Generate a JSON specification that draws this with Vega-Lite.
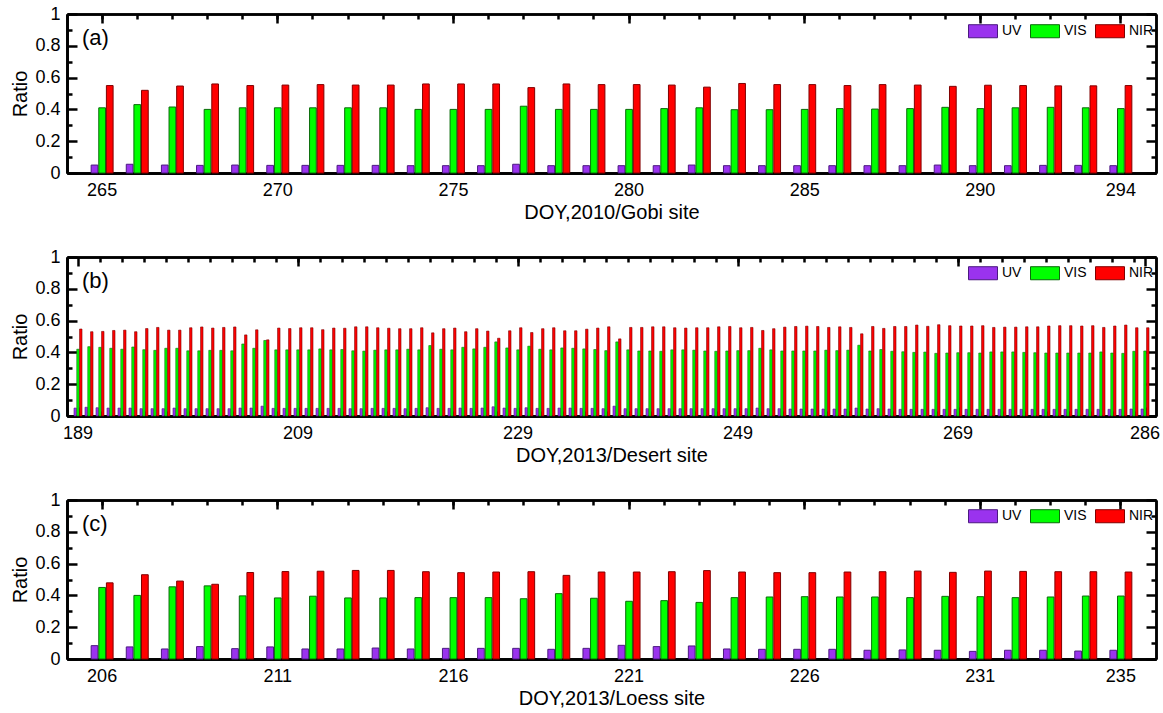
{
  "$schema": "https://vega.github.io/schema/vega-lite/v6.json",
  "padding": {"left": 10, "top": 5, "right": 5, "bottom": 2},
  "spacing": 26,
  "config": {
    "font": "Liberation Sans",
    "view": {"stroke": null},
    "axis": {"grid": false, "labelColor": "black", "titleColor": "black", "labelFontSize": 18, "titleFontSize": 20, "titleFontWeight": "normal", "labelAngle": 0},
    "legend": {"labelFontSize": 14, "labelColor": "black"},
    "title": {"font": "Liberation Sans", "color": "black"}
  },
  "datasets": {
    "a": [
      {"doy":265,"UV":0.05,"VIS":0.41,"NIR":0.55},{"doy":266,"UV":0.055,"VIS":0.43,"NIR":0.52},{"doy":267,"UV":0.05,"VIS":0.415,"NIR":0.547},{"doy":268,"UV":0.048,"VIS":0.40,"NIR":0.56},{"doy":269,"UV":0.05,"VIS":0.41,"NIR":0.55},
      {"doy":270,"UV":0.048,"VIS":0.41,"NIR":0.553},{"doy":271,"UV":0.048,"VIS":0.41,"NIR":0.556},{"doy":272,"UV":0.048,"VIS":0.41,"NIR":0.553},{"doy":273,"UV":0.048,"VIS":0.41,"NIR":0.553},{"doy":274,"UV":0.046,"VIS":0.40,"NIR":0.56},
      {"doy":275,"UV":0.046,"VIS":0.40,"NIR":0.56},{"doy":276,"UV":0.046,"VIS":0.40,"NIR":0.56},{"doy":277,"UV":0.055,"VIS":0.42,"NIR":0.537},{"doy":278,"UV":0.046,"VIS":0.40,"NIR":0.56},{"doy":279,"UV":0.046,"VIS":0.40,"NIR":0.556},
      {"doy":280,"UV":0.046,"VIS":0.40,"NIR":0.556},{"doy":281,"UV":0.046,"VIS":0.405,"NIR":0.553},{"doy":282,"UV":0.05,"VIS":0.41,"NIR":0.54},{"doy":283,"UV":0.046,"VIS":0.398,"NIR":0.563},{"doy":284,"UV":0.046,"VIS":0.398,"NIR":0.556},
      {"doy":285,"UV":0.046,"VIS":0.40,"NIR":0.556},{"doy":286,"UV":0.046,"VIS":0.405,"NIR":0.55},{"doy":287,"UV":0.046,"VIS":0.402,"NIR":0.556},{"doy":288,"UV":0.046,"VIS":0.405,"NIR":0.553},{"doy":289,"UV":0.05,"VIS":0.413,"NIR":0.545},
      {"doy":290,"UV":0.046,"VIS":0.405,"NIR":0.552},{"doy":291,"UV":0.046,"VIS":0.41,"NIR":0.55},{"doy":292,"UV":0.048,"VIS":0.413,"NIR":0.548},{"doy":293,"UV":0.048,"VIS":0.41,"NIR":0.548},{"doy":294,"UV":0.046,"VIS":0.405,"NIR":0.55}
    ],
    "b": [
      {"doy":189,"UV":0.05,"VIS":0.42,"NIR":0.547},{"doy":190,"UV":0.055,"VIS":0.436,"NIR":0.53},{"doy":191,"UV":0.052,"VIS":0.432,"NIR":0.532},{"doy":192,"UV":0.05,"VIS":0.426,"NIR":0.538},{"doy":193,"UV":0.05,"VIS":0.42,"NIR":0.54},
      {"doy":194,"UV":0.05,"VIS":0.434,"NIR":0.53},{"doy":195,"UV":0.046,"VIS":0.417,"NIR":0.55},{"doy":196,"UV":0.046,"VIS":0.413,"NIR":0.557},{"doy":197,"UV":0.046,"VIS":0.426,"NIR":0.54},{"doy":198,"UV":0.05,"VIS":0.426,"NIR":0.54},
      {"doy":199,"UV":0.046,"VIS":0.41,"NIR":0.555},{"doy":200,"UV":0.046,"VIS":0.41,"NIR":0.56},{"doy":201,"UV":0.046,"VIS":0.413,"NIR":0.553},{"doy":202,"UV":0.046,"VIS":0.413,"NIR":0.557},{"doy":203,"UV":0.046,"VIS":0.41,"NIR":0.56},
      {"doy":204,"UV":0.05,"VIS":0.453,"NIR":0.51},{"doy":205,"UV":0.05,"VIS":0.426,"NIR":0.542},{"doy":206,"UV":0.062,"VIS":0.475,"NIR":0.479},{"doy":207,"UV":0.048,"VIS":0.416,"NIR":0.553},{"doy":208,"UV":0.048,"VIS":0.416,"NIR":0.55},
      {"doy":209,"UV":0.048,"VIS":0.416,"NIR":0.555},{"doy":210,"UV":0.048,"VIS":0.416,"NIR":0.555},{"doy":211,"UV":0.048,"VIS":0.422,"NIR":0.543},{"doy":212,"UV":0.048,"VIS":0.416,"NIR":0.553},{"doy":213,"UV":0.048,"VIS":0.418,"NIR":0.552},
      {"doy":214,"UV":0.046,"VIS":0.41,"NIR":0.561},{"doy":215,"UV":0.046,"VIS":0.408,"NIR":0.561},{"doy":216,"UV":0.048,"VIS":0.414,"NIR":0.555},{"doy":217,"UV":0.048,"VIS":0.416,"NIR":0.552},{"doy":218,"UV":0.048,"VIS":0.416,"NIR":0.549},
      {"doy":219,"UV":0.046,"VIS":0.42,"NIR":0.549},{"doy":220,"UV":0.048,"VIS":0.416,"NIR":0.555},{"doy":221,"UV":0.052,"VIS":0.443,"NIR":0.523},{"doy":222,"UV":0.048,"VIS":0.42,"NIR":0.549},{"doy":223,"UV":0.048,"VIS":0.416,"NIR":0.553},
      {"doy":224,"UV":0.05,"VIS":0.432,"NIR":0.53},{"doy":225,"UV":0.048,"VIS":0.422,"NIR":0.549},{"doy":226,"UV":0.05,"VIS":0.432,"NIR":0.534},{"doy":227,"UV":0.058,"VIS":0.466,"NIR":0.489},{"doy":228,"UV":0.05,"VIS":0.428,"NIR":0.536},
      {"doy":229,"UV":0.048,"VIS":0.416,"NIR":0.555},{"doy":230,"UV":0.052,"VIS":0.439,"NIR":0.525},{"doy":231,"UV":0.048,"VIS":0.42,"NIR":0.549},{"doy":232,"UV":0.048,"VIS":0.416,"NIR":0.555},{"doy":233,"UV":0.05,"VIS":0.428,"NIR":0.536},
      {"doy":234,"UV":0.05,"VIS":0.426,"NIR":0.536},{"doy":235,"UV":0.048,"VIS":0.422,"NIR":0.546},{"doy":236,"UV":0.048,"VIS":0.418,"NIR":0.553},{"doy":237,"UV":0.046,"VIS":0.411,"NIR":0.561},{"doy":238,"UV":0.062,"VIS":0.466,"NIR":0.485},
      {"doy":239,"UV":0.046,"VIS":0.416,"NIR":0.557},{"doy":240,"UV":0.046,"VIS":0.409,"NIR":0.557},{"doy":241,"UV":0.046,"VIS":0.409,"NIR":0.561},{"doy":242,"UV":0.046,"VIS":0.407,"NIR":0.561},{"doy":243,"UV":0.046,"VIS":0.416,"NIR":0.555},
      {"doy":244,"UV":0.046,"VIS":0.416,"NIR":0.553},{"doy":245,"UV":0.046,"VIS":0.414,"NIR":0.555},{"doy":246,"UV":0.046,"VIS":0.409,"NIR":0.555},{"doy":247,"UV":0.046,"VIS":0.407,"NIR":0.561},{"doy":248,"UV":0.046,"VIS":0.409,"NIR":0.563},
      {"doy":249,"UV":0.046,"VIS":0.411,"NIR":0.555},{"doy":250,"UV":0.046,"VIS":0.411,"NIR":0.557},{"doy":251,"UV":0.05,"VIS":0.426,"NIR":0.538},{"doy":252,"UV":0.046,"VIS":0.416,"NIR":0.549},{"doy":253,"UV":0.046,"VIS":0.409,"NIR":0.559},
      {"doy":254,"UV":0.044,"VIS":0.409,"NIR":0.563},{"doy":255,"UV":0.044,"VIS":0.409,"NIR":0.565},{"doy":256,"UV":0.044,"VIS":0.409,"NIR":0.563},{"doy":257,"UV":0.044,"VIS":0.414,"NIR":0.557},{"doy":258,"UV":0.044,"VIS":0.411,"NIR":0.561},
      {"doy":259,"UV":0.044,"VIS":0.414,"NIR":0.557},{"doy":260,"UV":0.05,"VIS":0.445,"NIR":0.517},{"doy":261,"UV":0.044,"VIS":0.409,"NIR":0.563},{"doy":262,"UV":0.046,"VIS":0.418,"NIR":0.551},{"doy":263,"UV":0.044,"VIS":0.407,"NIR":0.563},
      {"doy":264,"UV":0.042,"VIS":0.404,"NIR":0.563},{"doy":265,"UV":0.042,"VIS":0.40,"NIR":0.572},{"doy":266,"UV":0.042,"VIS":0.402,"NIR":0.564},{"doy":267,"UV":0.042,"VIS":0.394,"NIR":0.574},{"doy":268,"UV":0.042,"VIS":0.396,"NIR":0.568},
      {"doy":269,"UV":0.042,"VIS":0.398,"NIR":0.566},{"doy":270,"UV":0.042,"VIS":0.398,"NIR":0.566},{"doy":271,"UV":0.042,"VIS":0.396,"NIR":0.568},{"doy":272,"UV":0.042,"VIS":0.403,"NIR":0.557},{"doy":273,"UV":0.042,"VIS":0.403,"NIR":0.559},
      {"doy":274,"UV":0.042,"VIS":0.403,"NIR":0.559},{"doy":275,"UV":0.042,"VIS":0.40,"NIR":0.561},{"doy":276,"UV":0.042,"VIS":0.398,"NIR":0.561},{"doy":277,"UV":0.042,"VIS":0.396,"NIR":0.566},{"doy":278,"UV":0.042,"VIS":0.396,"NIR":0.568},
      {"doy":279,"UV":0.042,"VIS":0.396,"NIR":0.568},{"doy":280,"UV":0.042,"VIS":0.396,"NIR":0.566},{"doy":281,"UV":0.042,"VIS":0.396,"NIR":0.568},{"doy":282,"UV":0.042,"VIS":0.403,"NIR":0.557},{"doy":283,"UV":0.042,"VIS":0.396,"NIR":0.566},
      {"doy":284,"UV":0.042,"VIS":0.394,"NIR":0.572},{"doy":285,"UV":0.044,"VIS":0.407,"NIR":0.555},{"doy":286,"UV":0.044,"VIS":0.409,"NIR":0.555}
    ],
    "c": [
      {"doy":206,"UV":0.084,"VIS":0.45,"NIR":0.479},{"doy":207,"UV":0.076,"VIS":0.40,"NIR":0.53},{"doy":208,"UV":0.063,"VIS":0.454,"NIR":0.49},{"doy":209,"UV":0.078,"VIS":0.46,"NIR":0.47},{"doy":210,"UV":0.065,"VIS":0.397,"NIR":0.544},
      {"doy":211,"UV":0.076,"VIS":0.384,"NIR":0.55},{"doy":212,"UV":0.063,"VIS":0.395,"NIR":0.552},{"doy":213,"UV":0.063,"VIS":0.384,"NIR":0.557},{"doy":214,"UV":0.069,"VIS":0.384,"NIR":0.557},{"doy":215,"UV":0.063,"VIS":0.386,"NIR":0.549},
      {"doy":216,"UV":0.067,"VIS":0.386,"NIR":0.543},{"doy":217,"UV":0.067,"VIS":0.386,"NIR":0.547},{"doy":218,"UV":0.067,"VIS":0.379,"NIR":0.549},{"doy":219,"UV":0.061,"VIS":0.411,"NIR":0.526},{"doy":220,"UV":0.067,"VIS":0.382,"NIR":0.547},
      {"doy":221,"UV":0.086,"VIS":0.363,"NIR":0.547},{"doy":222,"UV":0.078,"VIS":0.367,"NIR":0.549},{"doy":223,"UV":0.082,"VIS":0.356,"NIR":0.556},{"doy":224,"UV":0.063,"VIS":0.386,"NIR":0.547},{"doy":225,"UV":0.061,"VIS":0.39,"NIR":0.543},
      {"doy":226,"UV":0.061,"VIS":0.392,"NIR":0.543},{"doy":227,"UV":0.061,"VIS":0.39,"NIR":0.547},{"doy":228,"UV":0.055,"VIS":0.39,"NIR":0.549},{"doy":229,"UV":0.057,"VIS":0.386,"NIR":0.553},{"doy":230,"UV":0.055,"VIS":0.394,"NIR":0.545},
      {"doy":231,"UV":0.048,"VIS":0.392,"NIR":0.553},{"doy":232,"UV":0.055,"VIS":0.386,"NIR":0.551},{"doy":233,"UV":0.055,"VIS":0.39,"NIR":0.549},{"doy":234,"UV":0.05,"VIS":0.396,"NIR":0.549},{"doy":235,"UV":0.055,"VIS":0.396,"NIR":0.547}
    ]
  },
  "vconcat": [
    {
      "width": 1089, "height": 159,
      "data": {"name": "a"},
      "transform": [{"fold": ["UV", "VIS", "NIR"], "as": ["band", "ratio"]}],
      "title": {"text": "(a)", "orient": "top", "anchor": "start", "frame": "group", "offset": -45, "dx": 15, "fontSize": 22, "fontWeight": "normal"},
      "layer": [
        {
          "mark": {"type": "bar", "strokeWidth": 1},
          "encoding": {
            "x": {"field": "doy", "type": "ordinal", "scale": {"paddingInner": 0.375, "paddingOuter": 0.6875},
                  "axis": {"orient": "bottom", "values": [265,270,275,280,285,290,294], "ticks": false, "domainWidth": 2.5, "domainColor": "black", "labelPadding": 8, "title": "DOY,2010/Gobi site", "titlePadding": 3}},
            "y": {"field": "ratio", "type": "quantitative", "scale": {"domain": [0, 1], "nice": false},
                  "axis": {"orient": "left", "values": [0,0.2,0.4,0.6,0.8,1], "format": "~g", "ticks": false, "domainWidth": 2.5, "domainColor": "black", "labelPadding": 7, "title": "Ratio", "titlePadding": 4}},
            "xOffset": {"field": "band", "type": "nominal", "sort": ["UV", "VIS", "NIR"], "scale": {"paddingInner": 0.12}},
            "color": {"field": "band", "type": "nominal", "sort": ["UV", "VIS", "NIR"],
                      "scale": {"domain": ["UV", "VIS", "NIR"], "range": ["#9a33ee", "#00ff00", "#ff0000"]},
                      "legend": {"title": null, "orient": "none", "legendX": 901, "legendY": 2, "direction": "horizontal", "padding": 0, "symbolType": "M-1,-0.45H1V0.45H-1Z", "symbolSize": 841, "symbolStrokeWidth": 1, "symbolOpacity": 1, "labelOffset": 4, "columnPadding": 6,
                                 "encode": {"symbols": {"update": {"stroke": [{"test": "datum.value === 'UV'", "value": "#4b1a80"}, {"test": "datum.value === 'VIS'", "value": "#0a6a0a"}, {"value": "#800000"}]}}}}},
            "stroke": {"field": "band", "type": "nominal", "scale": {"domain": ["UV", "VIS", "NIR"], "range": ["#4b1a80", "#0a6a0a", "#800000"]}, "legend": null}
          }
        },
        {
          "mark": {"type": "tick", "opacity": 0},
          "encoding": {
            "x": {"field": "doy", "type": "ordinal", "axis": {"orient": "top", "values": [265,270,275,280,285,290,294], "tickSize": -9, "tickWidth": 2.5, "tickColor": "black", "domainWidth": 2.5, "domainColor": "black", "labelExpr": "''", "labelFontSize": 1, "labelPadding": -15, "title": null}},
            "y": {"field": "ratio", "type": "quantitative", "axis": {"orient": "right", "values": [0,0.2,0.4,0.6,0.8,1], "tickSize": -10, "tickWidth": 2.5, "tickColor": "black", "domainWidth": 2.5, "domainColor": "black", "labelExpr": "''", "labelFontSize": 1, "labelPadding": -15, "title": null}}
          }
        },
        {
          "mark": {"type": "tick", "opacity": 0},
          "encoding": {
            "x": {"field": "doy", "type": "ordinal", "axis": {"orient": "top", "values": [265,266,267,268,269,270,271,272,273,274,275,276,277,278,279,280,281,282,283,284,285,286,287,288,289,290,291,292,293,294], "tickSize": -5, "tickWidth": 2.5, "tickColor": "black", "domainWidth": 2.5, "domainColor": "black", "labelExpr": "''", "labelFontSize": 1, "labelPadding": -15, "title": null}},
            "y": {"field": "ratio", "type": "quantitative", "axis": {"orient": "right", "values": [0.1,0.3,0.5,0.7,0.9], "tickSize": -5, "tickWidth": 2.5, "tickColor": "black", "domainWidth": 2.5, "domainColor": "black", "labelExpr": "''", "labelFontSize": 1, "labelPadding": -15, "title": null}}
          }
        },
        {
          "mark": {"type": "tick", "opacity": 0},
          "encoding": {
            "x": {"field": "doy", "type": "ordinal", "axis": {"orient": "bottom", "values": [265,270,275,280,285,290,294], "tickSize": -9, "tickWidth": 2.5, "tickColor": "black", "domainWidth": 2.5, "domainColor": "black", "labelExpr": "''", "labelFontSize": 1, "labelPadding": -15, "title": null}},
            "y": {"field": "ratio", "type": "quantitative", "axis": {"orient": "left", "values": [0,0.2,0.4,0.6,0.8,1], "tickSize": -10, "tickWidth": 2.5, "tickColor": "black", "domainWidth": 2.5, "domainColor": "black", "labelExpr": "''", "labelFontSize": 1, "labelPadding": -15, "title": null}}
          }
        },
        {
          "mark": {"type": "tick", "opacity": 0},
          "encoding": {
            "x": {"field": "doy", "type": "ordinal", "axis": {"orient": "bottom", "values": [265,266,267,268,269,270,271,272,273,274,275,276,277,278,279,280,281,282,283,284,285,286,287,288,289,290,291,292,293,294], "tickSize": -5, "tickWidth": 2.5, "tickColor": "black", "domainWidth": 2.5, "domainColor": "black", "labelExpr": "''", "labelFontSize": 1, "labelPadding": -15, "title": null}},
            "y": {"field": "ratio", "type": "quantitative", "axis": {"orient": "left", "values": [0.1,0.3,0.5,0.7,0.9], "tickSize": -5, "tickWidth": 2.5, "tickColor": "black", "domainWidth": 2.5, "domainColor": "black", "labelExpr": "''", "labelFontSize": 1, "labelPadding": -15, "title": null}}
          }
        }
      ],
      "resolve": {"axis": {"x": "independent", "y": "independent"}}
    },
    {
      "width": 1089, "height": 159,
      "data": {"name": "b"},
      "transform": [{"fold": ["UV", "VIS", "NIR"], "as": ["band", "ratio"]}],
      "title": {"text": "(b)", "orient": "top", "anchor": "start", "frame": "group", "offset": -45, "dx": 15, "fontSize": 22, "fontWeight": "normal"},
      "layer": [
        {
          "mark": {"type": "bar", "strokeWidth": 0.6},
          "encoding": {
            "x": {"field": "doy", "type": "ordinal", "scale": {"paddingInner": 0.27, "paddingOuter": 0.635},
                  "axis": {"orient": "bottom", "values": [189,209,229,249,269,286], "ticks": false, "domainWidth": 2.5, "domainColor": "black", "labelPadding": 8, "title": "DOY,2013/Desert site", "titlePadding": 3}},
            "y": {"field": "ratio", "type": "quantitative", "scale": {"domain": [0, 1], "nice": false},
                  "axis": {"orient": "left", "values": [0,0.2,0.4,0.6,0.8,1], "format": "~g", "ticks": false, "domainWidth": 2.5, "domainColor": "black", "labelPadding": 7, "title": "Ratio", "titlePadding": 4}},
            "xOffset": {"field": "band", "type": "nominal", "sort": ["UV", "VIS", "NIR"], "scale": {"paddingInner": 0.12}},
            "color": {"field": "band", "type": "nominal", "sort": ["UV", "VIS", "NIR"],
                      "scale": {"domain": ["UV", "VIS", "NIR"], "range": ["#9a33ee", "#00ff00", "#ff0000"]},
                      "legend": {"title": null, "orient": "none", "legendX": 901, "legendY": 1, "direction": "horizontal", "padding": 0, "symbolType": "M-1,-0.45H1V0.45H-1Z", "symbolSize": 841, "symbolStrokeWidth": 1, "symbolOpacity": 1, "labelOffset": 4, "columnPadding": 6,
                                 "encode": {"symbols": {"update": {"stroke": [{"test": "datum.value === 'UV'", "value": "#4b1a80"}, {"test": "datum.value === 'VIS'", "value": "#0a6a0a"}, {"value": "#800000"}]}}}}},
            "stroke": {"field": "band", "type": "nominal", "scale": {"domain": ["UV", "VIS", "NIR"], "range": ["#4b1a80", "#0a6a0a", "#800000"]}, "legend": null}
          }
        },
        {
          "mark": {"type": "tick", "opacity": 0},
          "encoding": {
            "x": {"field": "doy", "type": "ordinal", "axis": {"orient": "top", "values": [189,209,229,249,269,286], "tickSize": -9, "tickWidth": 2.5, "tickColor": "black", "domainWidth": 2.5, "domainColor": "black", "labelExpr": "''", "labelFontSize": 1, "labelPadding": -15, "title": null}},
            "y": {"field": "ratio", "type": "quantitative", "axis": {"orient": "right", "values": [0,0.2,0.4,0.6,0.8,1], "tickSize": -10, "tickWidth": 2.5, "tickColor": "black", "domainWidth": 2.5, "domainColor": "black", "labelExpr": "''", "labelFontSize": 1, "labelPadding": -15, "title": null}}
          }
        },
        {
          "mark": {"type": "tick", "opacity": 0},
          "encoding": {
            "x": {"field": "doy", "type": "ordinal", "axis": {"orient": "top", "values": [191,193,195,197,199,201,203,205,207,209,211,213,215,217,219,221,223,225,227,229,231,233,235,237,239,241,243,245,247,249,251,253,255,257,259,261,263,265,267,269,271,273,275,277,279,281,283,285], "tickSize": -5, "tickWidth": 2.5, "tickColor": "black", "domainWidth": 2.5, "domainColor": "black", "labelExpr": "''", "labelFontSize": 1, "labelPadding": -15, "title": null}},
            "y": {"field": "ratio", "type": "quantitative", "axis": {"orient": "right", "values": [0.1,0.3,0.5,0.7,0.9], "tickSize": -5, "tickWidth": 2.5, "tickColor": "black", "domainWidth": 2.5, "domainColor": "black", "labelExpr": "''", "labelFontSize": 1, "labelPadding": -15, "title": null}}
          }
        },
        {
          "mark": {"type": "tick", "opacity": 0},
          "encoding": {
            "x": {"field": "doy", "type": "ordinal", "axis": {"orient": "bottom", "values": [189,209,229,249,269,286], "tickSize": -9, "tickWidth": 2.5, "tickColor": "black", "domainWidth": 2.5, "domainColor": "black", "labelExpr": "''", "labelFontSize": 1, "labelPadding": -15, "title": null}},
            "y": {"field": "ratio", "type": "quantitative", "axis": {"orient": "left", "values": [0,0.2,0.4,0.6,0.8,1], "tickSize": -10, "tickWidth": 2.5, "tickColor": "black", "domainWidth": 2.5, "domainColor": "black", "labelExpr": "''", "labelFontSize": 1, "labelPadding": -15, "title": null}}
          }
        },
        {
          "mark": {"type": "tick", "opacity": 0},
          "encoding": {
            "x": {"field": "doy", "type": "ordinal", "axis": {"orient": "bottom", "values": [191,193,195,197,199,201,203,205,207,209,211,213,215,217,219,221,223,225,227,229,231,233,235,237,239,241,243,245,247,249,251,253,255,257,259,261,263,265,267,269,271,273,275,277,279,281,283,285], "tickSize": -5, "tickWidth": 2.5, "tickColor": "black", "domainWidth": 2.5, "domainColor": "black", "labelExpr": "''", "labelFontSize": 1, "labelPadding": -15, "title": null}},
            "y": {"field": "ratio", "type": "quantitative", "axis": {"orient": "left", "values": [0.1,0.3,0.5,0.7,0.9], "tickSize": -5, "tickWidth": 2.5, "tickColor": "black", "domainWidth": 2.5, "domainColor": "black", "labelExpr": "''", "labelFontSize": 1, "labelPadding": -15, "title": null}}
          }
        }
      ],
      "resolve": {"axis": {"x": "independent", "y": "independent"}}
    },
    {
      "width": 1089, "height": 159,
      "data": {"name": "c"},
      "transform": [{"fold": ["UV", "VIS", "NIR"], "as": ["band", "ratio"]}],
      "title": {"text": "(c)", "orient": "top", "anchor": "start", "frame": "group", "offset": -45, "dx": 15, "fontSize": 22, "fontWeight": "normal"},
      "layer": [
        {
          "mark": {"type": "bar", "strokeWidth": 1},
          "encoding": {
            "x": {"field": "doy", "type": "ordinal", "scale": {"paddingInner": 0.375, "paddingOuter": 0.6875},
                  "axis": {"orient": "bottom", "values": [206,211,216,221,226,231,235], "ticks": false, "domainWidth": 2.5, "domainColor": "black", "labelPadding": 8, "title": "DOY,2013/Loess site", "titlePadding": 3}},
            "y": {"field": "ratio", "type": "quantitative", "scale": {"domain": [0, 1], "nice": false},
                  "axis": {"orient": "left", "values": [0,0.2,0.4,0.6,0.8,1], "format": "~g", "ticks": false, "domainWidth": 2.5, "domainColor": "black", "labelPadding": 7, "title": "Ratio", "titlePadding": 4}},
            "xOffset": {"field": "band", "type": "nominal", "sort": ["UV", "VIS", "NIR"], "scale": {"paddingInner": 0.12}},
            "color": {"field": "band", "type": "nominal", "sort": ["UV", "VIS", "NIR"],
                      "scale": {"domain": ["UV", "VIS", "NIR"], "range": ["#9a33ee", "#00ff00", "#ff0000"]},
                      "legend": {"title": null, "orient": "none", "legendX": 901, "legendY": 1, "direction": "horizontal", "padding": 0, "symbolType": "M-1,-0.45H1V0.45H-1Z", "symbolSize": 841, "symbolStrokeWidth": 1, "symbolOpacity": 1, "labelOffset": 4, "columnPadding": 6,
                                 "encode": {"symbols": {"update": {"stroke": [{"test": "datum.value === 'UV'", "value": "#4b1a80"}, {"test": "datum.value === 'VIS'", "value": "#0a6a0a"}, {"value": "#800000"}]}}}}},
            "stroke": {"field": "band", "type": "nominal", "scale": {"domain": ["UV", "VIS", "NIR"], "range": ["#4b1a80", "#0a6a0a", "#800000"]}, "legend": null}
          }
        },
        {
          "mark": {"type": "tick", "opacity": 0},
          "encoding": {
            "x": {"field": "doy", "type": "ordinal", "axis": {"orient": "top", "values": [206,211,216,221,226,231,235], "tickSize": -9, "tickWidth": 2.5, "tickColor": "black", "domainWidth": 2.5, "domainColor": "black", "labelExpr": "''", "labelFontSize": 1, "labelPadding": -15, "title": null}},
            "y": {"field": "ratio", "type": "quantitative", "axis": {"orient": "right", "values": [0,0.2,0.4,0.6,0.8,1], "tickSize": -10, "tickWidth": 2.5, "tickColor": "black", "domainWidth": 2.5, "domainColor": "black", "labelExpr": "''", "labelFontSize": 1, "labelPadding": -15, "title": null}}
          }
        },
        {
          "mark": {"type": "tick", "opacity": 0},
          "encoding": {
            "x": {"field": "doy", "type": "ordinal", "axis": {"orient": "top", "values": [206,207,208,209,210,211,212,213,214,215,216,217,218,219,220,221,222,223,224,225,226,227,228,229,230,231,232,233,234,235], "tickSize": -5, "tickWidth": 2.5, "tickColor": "black", "domainWidth": 2.5, "domainColor": "black", "labelExpr": "''", "labelFontSize": 1, "labelPadding": -15, "title": null}},
            "y": {"field": "ratio", "type": "quantitative", "axis": {"orient": "right", "values": [0.1,0.3,0.5,0.7,0.9], "tickSize": -5, "tickWidth": 2.5, "tickColor": "black", "domainWidth": 2.5, "domainColor": "black", "labelExpr": "''", "labelFontSize": 1, "labelPadding": -15, "title": null}}
          }
        },
        {
          "mark": {"type": "tick", "opacity": 0},
          "encoding": {
            "x": {"field": "doy", "type": "ordinal", "axis": {"orient": "bottom", "values": [206,211,216,221,226,231,235], "tickSize": -9, "tickWidth": 2.5, "tickColor": "black", "domainWidth": 2.5, "domainColor": "black", "labelExpr": "''", "labelFontSize": 1, "labelPadding": -15, "title": null}},
            "y": {"field": "ratio", "type": "quantitative", "axis": {"orient": "left", "values": [0,0.2,0.4,0.6,0.8,1], "tickSize": -10, "tickWidth": 2.5, "tickColor": "black", "domainWidth": 2.5, "domainColor": "black", "labelExpr": "''", "labelFontSize": 1, "labelPadding": -15, "title": null}}
          }
        },
        {
          "mark": {"type": "tick", "opacity": 0},
          "encoding": {
            "x": {"field": "doy", "type": "ordinal", "axis": {"orient": "bottom", "values": [206,207,208,209,210,211,212,213,214,215,216,217,218,219,220,221,222,223,224,225,226,227,228,229,230,231,232,233,234,235], "tickSize": -5, "tickWidth": 2.5, "tickColor": "black", "domainWidth": 2.5, "domainColor": "black", "labelExpr": "''", "labelFontSize": 1, "labelPadding": -15, "title": null}},
            "y": {"field": "ratio", "type": "quantitative", "axis": {"orient": "left", "values": [0.1,0.3,0.5,0.7,0.9], "tickSize": -5, "tickWidth": 2.5, "tickColor": "black", "domainWidth": 2.5, "domainColor": "black", "labelExpr": "''", "labelFontSize": 1, "labelPadding": -15, "title": null}}
          }
        }
      ],
      "resolve": {"axis": {"x": "independent", "y": "independent"}}
    }
  ],
  "resolve": {"scale": {"x": "independent", "y": "independent", "color": "independent", "stroke": "independent", "xOffset": "independent"}, "legend": {"color": "independent"}}
}
